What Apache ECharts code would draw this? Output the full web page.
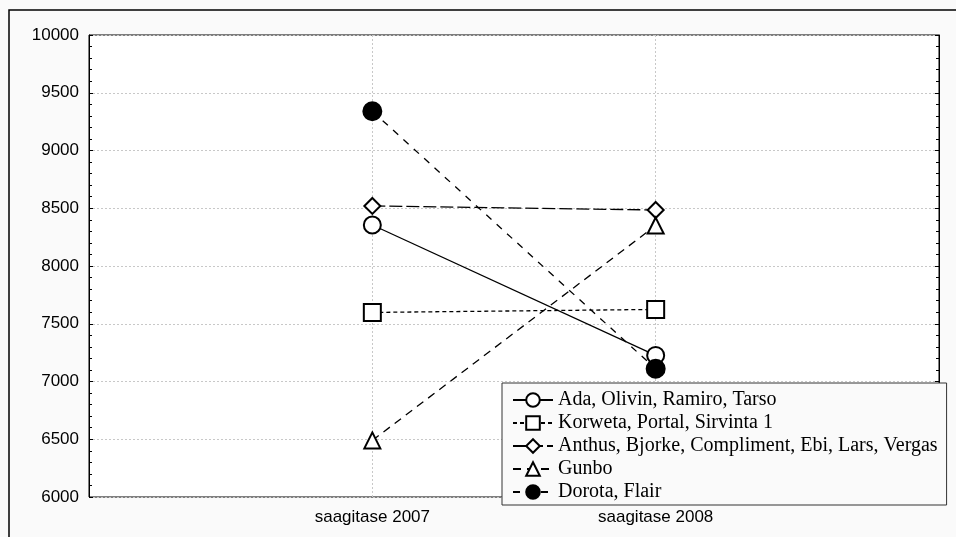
<!DOCTYPE html>
<html><head><meta charset="utf-8">
<script src="https://cdn.jsdelivr.net/npm/echarts@6/dist/echarts.min.js"></script>
<style>html,body{margin:0;padding:0;background:#fafafa}#c{width:956px;height:537px}</style>
</head><body><div id="c"></div>
<script>
const categories = ['saagitase 2007', 'saagitase 2008'];
const seriesNames = ['Ada, Olivin, Ramiro, Tarso', 'Korweta, Portal, Sirvinta 1', 'Anthus, Bjorke, Compliment, Ebi, Lars, Vergas', 'Gunbo', 'Dorota, Flair'];
const ada = [8355, 7226];
const korweta = [7598, 7624];
const anthus = [8520, 8485];
const gunbo = [6490, 8350];
const dorota = [9340, 7110];
const yTicks = [6000, 6500, 7000, 7500, 8000, 8500, 9000, 9500, 10000];

const values = [ada, korweta, anthus, gunbo, dorota];
const styles = [
  {symbol: 'circle', size: 17, fill: '#fff', dash: 'solid'},
  {symbol: 'rect', size: 17, fill: '#fff', dash: [4, 3]},
  {symbol: 'diamond', size: 16, fill: '#fff', dash: [13, 4]},
  {symbol: 'triangle', size: 16, fill: '#fff', dash: [8, 6]},
  {symbol: 'circle', size: 18, fill: '#000', dash: [7, 7]}
];
const chart = echarts.init(document.getElementById('c'));
const series = values.map((v, i) => ({
  name: seriesNames[i],
  type: 'line',
  data: v.map((y, j) => [j + 1, y]),
  symbol: styles[i].symbol,
  symbolSize: styles[i].size,
  showAllSymbol: true,
  lineStyle: {color: '#000', width: 1.3, type: styles[i].dash},
  itemStyle: {color: styles[i].fill, borderColor: '#000', borderWidth: 2},
  emphasis: {disabled: true},
  animation: false,
  z: 3
}));
chart.setOption({
  backgroundColor: '#fafafa',
  animation: false,
  graphic: [{type: 'rect', shape: {x: 9, y: 10, width: 1000, height: 600}, style: {fill: 'none', stroke: '#000', lineWidth: 1.5}, z: -1}],
  grid: {left: 89, top: 35, width: 850, height: 462, show: true, backgroundColor: '#fff', borderColor: '#000', borderWidth: 1},
  xAxis: {
    type: 'value', min: 0, max: 3, interval: 1,
    axisLine: {show: false}, axisTick: {show: false},
    axisLabel: {color: '#000', fontFamily: 'Liberation Sans', fontSize: 17, margin: 12,
      formatter: v => (v >= 1 && v <= categories.length) ? categories[v - 1] : ''},
    splitLine: {show: true, lineStyle: {color: '#c8c8c8', type: [2, 2], width: 1}}
  },
  yAxis: [{
    type: 'value', min: yTicks[0], max: yTicks[yTicks.length - 1], interval: 500,
    axisLine: {show: true, lineStyle: {color: '#000'}},
    axisTick: {show: true, inside: true, length: 4, lineStyle: {color: '#000'}},
    minorTick: {show: true, splitNumber: 5, length: 3, lineStyle: {color: '#000'}},
    axisLabel: {color: '#000', fontFamily: 'Liberation Sans', fontSize: 17, margin: 10, formatter: v => String(v)},
    splitLine: {show: true, lineStyle: {color: '#c8c8c8', type: [2, 2], width: 1}}
  }, {
    type: 'value', position: 'right', min: yTicks[0], max: yTicks[yTicks.length - 1], interval: 500,
    axisLine: {show: true, lineStyle: {color: '#000'}},
    axisTick: {show: true, inside: true, length: 4, lineStyle: {color: '#000'}},
    minorTick: {show: true, splitNumber: 5, length: 3, lineStyle: {color: '#000'}},
    axisLabel: {show: false}, splitLine: {show: false}
  }],
  legend: {
    orient: 'vertical', left: 502, top: 383,
    padding: [7, 9, 3, 10],
    itemWidth: 40, itemHeight: 17, itemGap: 3,
    backgroundColor: '#fafafa', borderColor: '#333', borderWidth: 1,
    textStyle: {color: '#000', fontFamily: 'Liberation Serif', fontSize: 20, lineHeight: 19},
    data: seriesNames
  },
  series: series
});
</script></body></html>
